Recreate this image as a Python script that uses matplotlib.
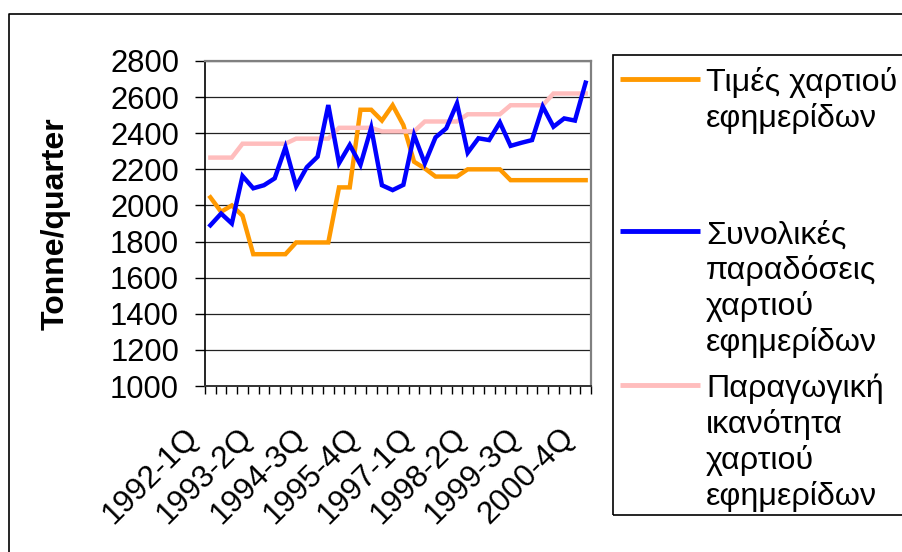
import numpy as np
import matplotlib
matplotlib.use("Agg")
import matplotlib.pyplot as plt
from matplotlib.lines import Line2D
from matplotlib.patches import Rectangle
from matplotlib.transforms import ScaledTranslation

plt.rcParams['font.family'] = ['Liberation Sans', 'DejaVu Sans']

# Quarterly series, 1992-1Q .. 2000-4Q
years = list(range(1992, 2001))
quarters = [f"{y}-{q}Q" for y in years for q in range(1, 5)]

price = [2045, 1965, 2000, 1943, 1730, 1730, 1730, 1730, 1795, 1795, 1795, 1795,
         2100, 2100, 2530, 2530, 2470, 2555, 2445, 2242, 2205, 2160, 2160, 2160,
         2200, 2200, 2200, 2200, 2140, 2140, 2140, 2140, 2140, 2140, 2140, 2140]
deliveries = [1890, 1955, 1900, 2163, 2095, 2112, 2150, 2322, 2106, 2212, 2270, 2556,
              2234, 2335, 2225, 2430, 2112, 2085, 2114, 2390, 2233, 2377, 2427, 2565,
              2292, 2372, 2362, 2460, 2330, 2347, 2362, 2548, 2436, 2482, 2470, 2680]
capacity = [2265, 2265, 2265, 2342, 2342, 2342, 2342, 2342, 2370, 2370, 2370, 2370,
            2430, 2430, 2430, 2430, 2410, 2410, 2410, 2410, 2465, 2465, 2465, 2465,
            2505, 2505, 2505, 2505, 2555, 2555, 2555, 2555, 2620, 2620, 2620, 2620]

series_labels = [
    ["Τιμές χαρτιού", "εφημερίδων"],
    ["Συνολικές", "παραδόσεις", "χαρτιού", "εφημερίδων"],
    ["Παραγωγική", "ικανότητα", "χαρτιού", "εφημερίδων"],
]
series_colors = ["#FF9900", "#0000FF", "#FFBDBD"]
y_ticks = list(range(1000, 2801, 200))
label_every = 5

W, H = 902, 552
fig = plt.figure(figsize=(W / 100, H / 100), dpi=100)


def fx(px):
    return px / W


def fy(py):
    return 1 - py / H


ax = fig.add_axes([fx(205), fy(386), fx(591) - fx(205), fy(61) - fy(386)])

x = np.arange(len(quarters))
lw = 3.2
ax.plot(x, price, color=series_colors[0], lw=lw, solid_joinstyle='miter', zorder=3)
ax.plot(x, capacity, color=series_colors[2], lw=lw, solid_joinstyle='miter', zorder=3)
ax.plot(x, deliveries, color=series_colors[1], lw=lw, solid_joinstyle='miter', zorder=4)

ax.set_xlim(-0.5, len(quarters) - 0.5)
ax.set_ylim(y_ticks[0], y_ticks[-1])
ax.set_yticks(y_ticks)
ax.set_yticklabels([str(v) for v in y_ticks], fontsize=22.3)
ax.tick_params(axis='y', direction='out', length=7.2, width=1, pad=11.5, colors='black')
ax.yaxis.grid(True, color='#222222', lw=0.9)
ax.set_axisbelow(True)

# tick marks between categories, labels at every fifth category centre
ax.set_xticks(np.arange(-0.5, len(quarters), 1))
ax.set_xticklabels([])
ax.tick_params(axis='x', which='major', direction='out', length=5.8, width=1, colors='black')
lab_pos = x[::label_every]
ax.set_xticks(lab_pos, [quarters[i] for i in lab_pos], minor=True)
ax.tick_params(axis='x', which='minor', length=0, pad=0)
offset = ScaledTranslation(-0.16, -0.47, fig.dpi_scale_trans)
for lbl in ax.get_xticklabels(minor=True):
    lbl.set_rotation(45)
    lbl.set_rotation_mode('anchor')
    lbl.set_ha('right')
    lbl.set_va('center')
    lbl.set_fontsize(22.6)
    lbl.set_transform(lbl.get_transform() + offset)

for side in ('top', 'right'):
    ax.spines[side].set_color('#808080')
    ax.spines[side].set_linewidth(1.6)
ax.spines['left'].set_color('black')
ax.spines['left'].set_linewidth(1.2)
ax.spines['bottom'].set_color('#333333')
ax.spines['bottom'].set_linewidth(1.4)

fig.text(fx(56), fy(224), "Tonne/quarter", rotation=90, ha='center', va='center',
         fontsize=23, fontweight='bold')

# outer chart frame (left and top edges are inside the canvas)
fig.add_artist(Line2D([fx(9), fx(9), fx(W + 5)], [fy(H + 5), fy(14), fy(14)],
                      transform=fig.transFigure, color='black', lw=1.2))

# legend box
fig.add_artist(Rectangle((fx(613), fy(515)), fx(W + 10) - fx(613), fy(55) - fy(515),
                         transform=fig.transFigure, fill=False, edgecolor='black', lw=1.2))
first_baselines = [90.5, 243.5, 397]
line_step = 36
for labels, color, b0 in zip(series_labels, series_colors, first_baselines):
    fig.add_artist(Line2D([fx(620), fx(700)], [fy(b0 - 12), fy(b0 - 12)],
                          transform=fig.transFigure, color=color, lw=3.5,
                          solid_capstyle='butt'))
    for k, t in enumerate(labels):
        fig.text(fx(706), fy(b0 + k * line_step), t, ha='left', va='baseline',
                 fontsize=23.2)

fig.savefig("out.png", dpi=100)
